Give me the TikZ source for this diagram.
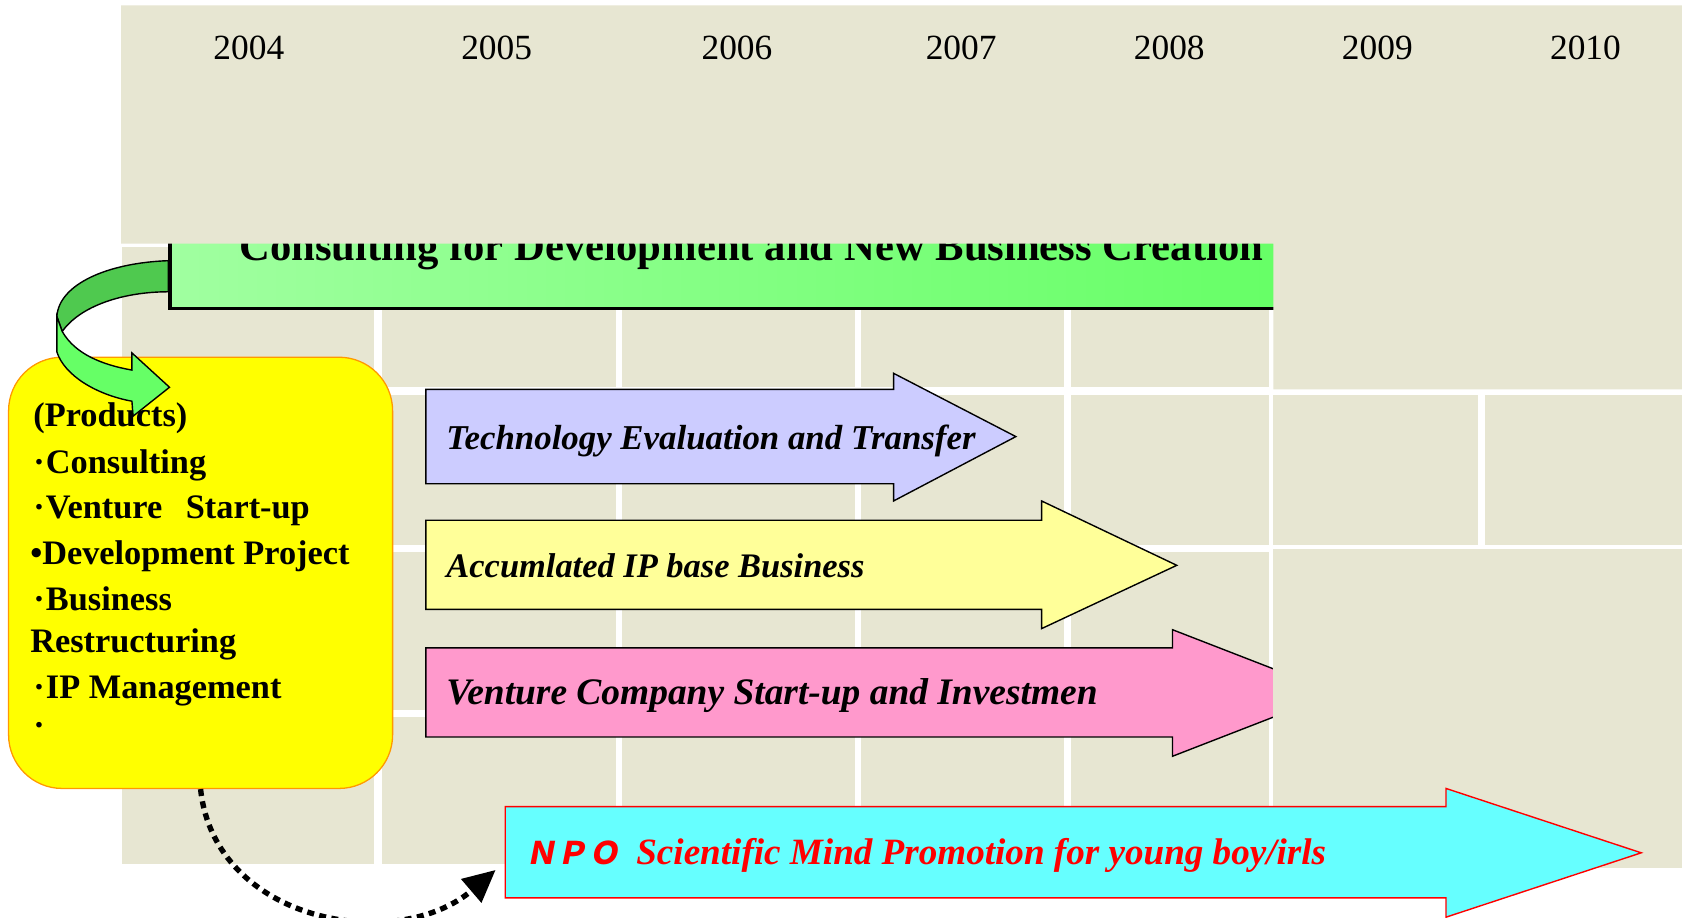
\documentclass[tikz,border=0pt]{standalone}
\usepackage{fontspec}
\setmainfont{Liberation Serif}
\newfontfamily\npofont[FakeSlant=0.2]{Noto Sans CJK JP}
\usetikzlibrary{arrows.meta}
\definecolor{beige}{HTML}{E7E6D2}
\definecolor{gL}{HTML}{A0FFA0}
\definecolor{gR}{HTML}{66FF66}
\definecolor{gDark}{HTML}{4FC94F}
\definecolor{gLight}{HTML}{66FF66}
\definecolor{blueA}{HTML}{CCCCFF}
\definecolor{yellowA}{HTML}{FFFF99}
\definecolor{pinkA}{HTML}{FF99CC}
\definecolor{cyanA}{HTML}{66FFFF}
\definecolor{boxOrange}{HTML}{FF9900}
\definecolor{boxYellow}{HTML}{FFFF00}
\newcommand\setfs[1]{\fontsize{#1}{#1}\selectfont}
\tikzset{
  blockarrow/.style={draw=black, line width=1.3pt, line join=miter},
  arrowtext/.style={anchor=base west, inner sep=0pt, font=\bfseries\itshape\setfs{32.5}},
  yeartext/.style={anchor=base, inner sep=0pt, font=\setfs{33}},
  listtext/.style={anchor=base west, inner sep=0pt, font=\bfseries\setfs{32}},
}
\begin{document}
\begin{tikzpicture}[x=1pt,y=-1pt]
\useasboundingbox (0,0) rectangle (1568,855);
\fill[white] (0,0) rectangle (1568,855);
% lower-left cells
\fill[beige] (114,230) rectangle (349,805);
\foreach \xa/\xb in {356/574,580/797,803/992,998/1183}{
  \fill[beige] (\xa,230) rectangle (\xb,361);
  \fill[beige] (\xa,368) rectangle (\xb,508);
  \fill[beige] (\xa,515) rectangle (\xb,662);
  \fill[beige] (\xa,668) rectangle (\xb,805);
}
% green consulting bar (partly hidden)
\draw[line width=3.5pt, left color=gL, right color=gR] (158.5,190) rectangle (1200,287.5);
\node[anchor=base west, inner sep=0pt, font=\bfseries\setfs{39.8}] (cons) at (223,243) {Consulting for Development and New Business Creation};
% pink arrow (tip hidden)
\draw[blockarrow, fill=pinkA] (397,604) -- (1093,604) -- (1093,587) -- (1245,646) -- (1093,705) -- (1093,687) -- (397,687) -- cycle;
% top and right blocks (drawn over)
\fill[beige] (113,5) -- (1568,5) -- (1568,363) -- (1187,363) -- (1187,227) -- (113,227) -- cycle;
\fill[beige] (1187,368) rectangle (1378,508);
\fill[beige] (1384,368) rectangle (1568,508);
\fill[beige] (1187,512) rectangle (1568,809);
% years
\foreach \xx/\yy in {232/2004,463/2005,687/2006,896/2007,1090/2008,1284/2009,1478/2010}
  \node[yeartext] (y\yy) at (\xx,55) {\yy};
% arrow texts
\node[arrowtext, font=\bfseries\itshape\setfs{34.9}] (ven) at (416,657) {Venture Company Start-up and Investmen};
% blue arrow
\draw[blockarrow, fill=blueA] (397,363) -- (833,363) -- (833,348) -- (947,407) -- (833,467) -- (833,451) -- (397,451) -- cycle;
\node[arrowtext] (tech) at (416,419) {Technology Evaluation and Transfer};
% yellow arrow
\draw[blockarrow, fill=yellowA] (397,485) -- (971,485) -- (971,467) -- (1097,527) -- (971,586) -- (971,568) -- (397,568) -- cycle;
\node[arrowtext, font=\bfseries\itshape\setfs{32.1}] (ip) at (416,538) {Accumlated IP base Business};
% cyan arrow
\draw[blockarrow, draw=red, fill=cyanA] (471,752) -- (1348,752) -- (1348,735) -- (1530,795) -- (1348,855) -- (1348,837) -- (471,837) -- cycle;
\node[anchor=base west, inner sep=0pt, text=red, font=\npofont\bfseries\setfs{29}] (npo) at (490,806) {ＮＰＯ};
\node[arrowtext, text=red, font=\bfseries\itshape\setfs{34.6}] (sci) at (593,806) {Scientific Mind Promotion for young boy/irls};
% yellow products box
\node[draw=boxOrange, fill=boxYellow, line width=1.2pt, rounded corners=50pt, minimum width=358pt, minimum height=402pt, inner sep=0pt] (prod) at (187,534) {};
% curved green arrow
\draw[line width=1.3pt, fill=gDark] (157,243) .. controls (100,245) and (55,265) .. (53,295) -- (58,309) .. controls (75,285) and (115,272) .. (157,272) -- cycle;
\draw[line width=1.3pt, fill=gLight, line join=miter] (53,295) -- (53,328) .. controls (60,350) and (90,368) .. (123,374) -- (124,388) -- (158,361) -- (123,329) -- (123,345) .. controls (95,340) and (70,330) .. (58,309) -- cycle;
% products text
\node[listtext] (l1) at (31,398) {(Products)};
\node[listtext] (l2) at (31,441) {·\kern1pt Consulting};
\node[listtext] (l3) at (31,483) {·\kern1pt Venture\hspace{22pt}Start-up};
\node[listtext] (l4) at (28,526) {•Development Project};
\node[listtext] (l5) at (31,569) {·\kern1pt Business};
\node[listtext] (l6) at (28,608) {Restructuring};
\node[listtext] (l7) at (31,651) {·\kern1pt IP Management};
\node[listtext] (l8) at (31,687) {·};
% dotted connector
\coordinate (npoin) at (462,811);
\draw[line width=5pt, dash pattern=on 6.5pt off 5pt, -{Triangle[length=30pt,width=28pt]}] (prod.south) .. controls (200,860) and (370,890) .. (npoin);
\end{tikzpicture}
\end{document}
